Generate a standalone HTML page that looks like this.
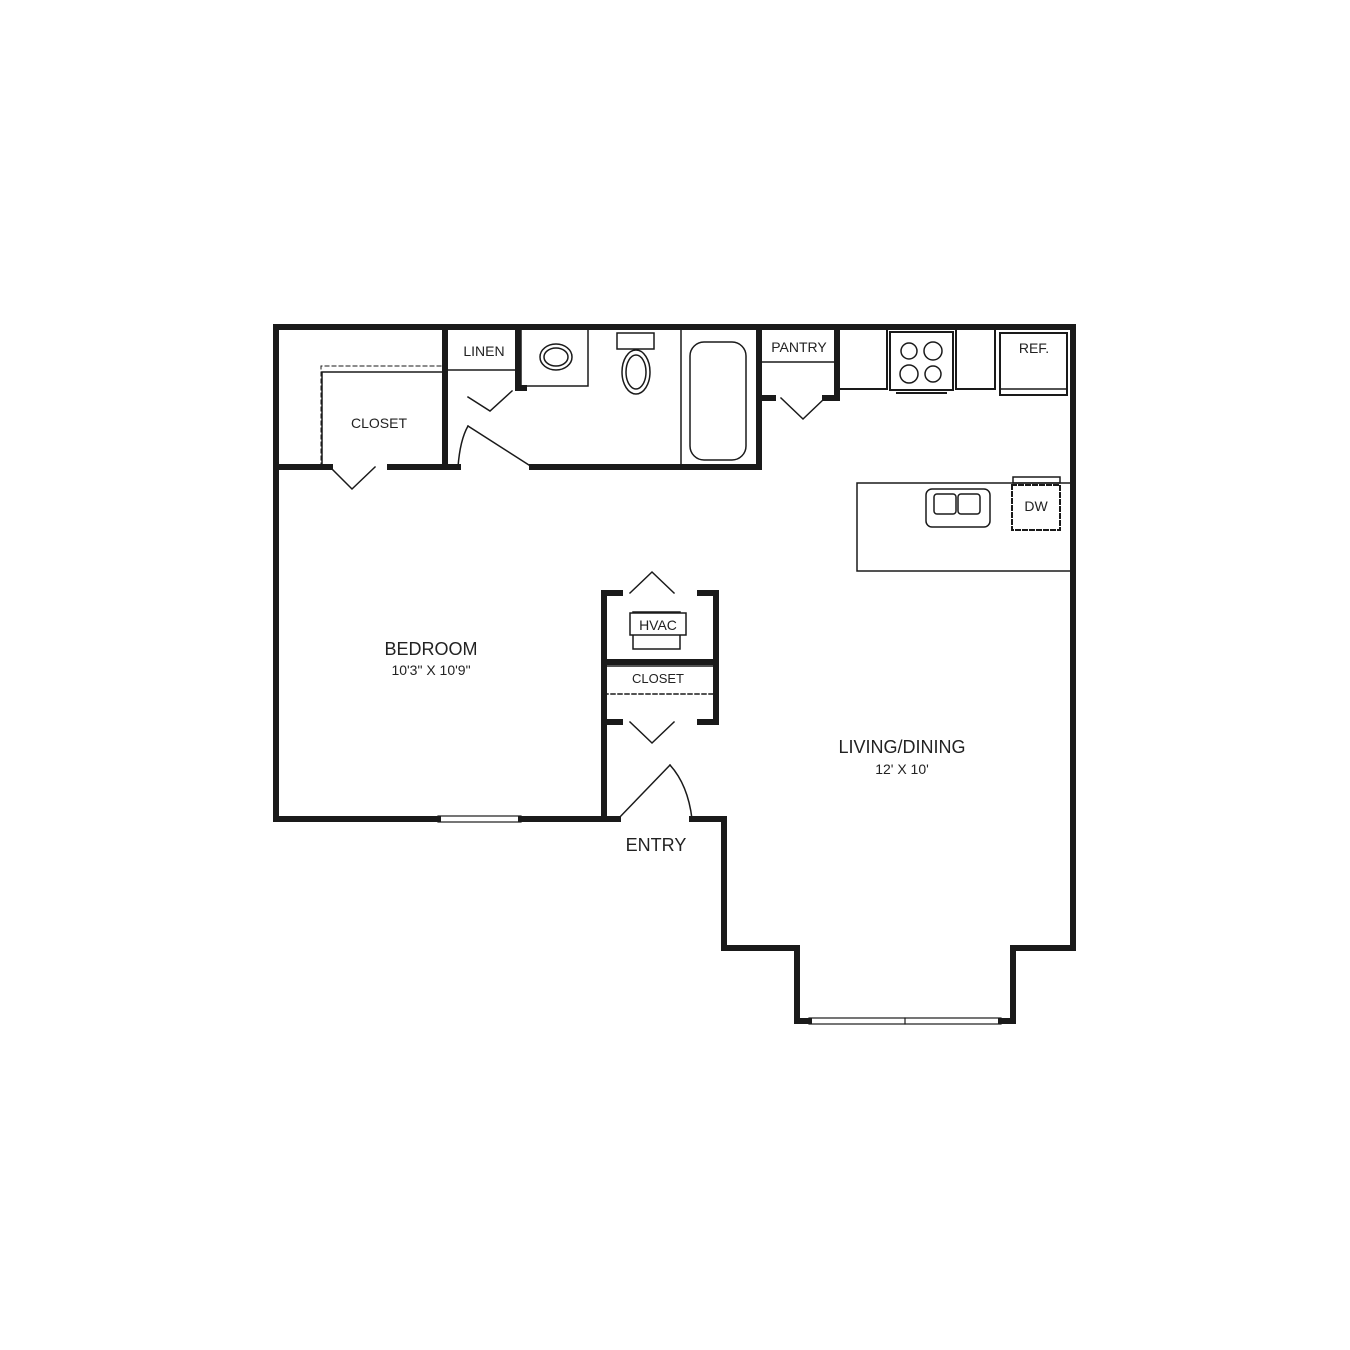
<!DOCTYPE html>
<html><head><style>body{margin:0;background:#fff}svg{display:block}text{font-family:"Liberation Sans",sans-serif;fill:#222;text-anchor:middle}</style></head>
<body><svg width="1350" height="1350" viewBox="0 0 1350 1350">
<g fill="none" stroke="#1a1a1a" stroke-linecap="square">
<path d="M438 819 H276 V327 H1073 V948 H1013 V1021 H1001 M809 1021 H797 V948 H724 V819 H692" stroke-width="6"/>
<path d="M521 819 H618" stroke-width="6"/>
<rect x="438" y="816" width="83" height="6" stroke-width="1.2"/>
<rect x="809" y="1018" width="192" height="6" stroke-width="1.2"/>
<line x1="905" y1="1018" x2="905" y2="1024" stroke-width="1.2"/>
<path d="M276 467 H330 M390 467 H445 V327 M445 467 H458 M532 467 H759 V327" stroke-width="6"/>
<path d="M518 327 V388 H524" stroke-width="6"/>
<path d="M837 327 V398 H825 M759 398 H773" stroke-width="6"/>
<g stroke-width="1.5">
<line x1="445" y1="370" x2="518" y2="370"/>
<rect x="521" y="327" width="67" height="59"/>
<line x1="681" y1="327" x2="681" y2="467"/>
<line x1="759" y1="362" x2="837" y2="362"/>
<path d="M322 467 V372 H445"/>
<path d="M321 467 V366 H445" stroke-dasharray="4 3" stroke-width="1"/>
<path d="M330 467 L352 489 L375 467"/>
<path d="M468 397 L490 411 L512 391"/>
<path d="M781 398 L803 419 L825 398"/>
<path d="M468 426 L532 467"/>
<path d="M458 467 Q460 440 468 426"/>
<ellipse cx="556" cy="357" rx="16" ry="13"/>
<ellipse cx="556" cy="357" rx="12" ry="9"/>
<rect x="617" y="333" width="37" height="16"/>
<ellipse cx="636" cy="372" rx="14" ry="22"/>
<ellipse cx="636" cy="372" rx="10" ry="17"/>
<rect x="690" y="342" width="56" height="118" rx="14"/>
<rect x="839" y="329" width="48" height="60" stroke-width="2"/>
<rect x="890" y="332" width="63" height="58" stroke-width="2"/>
<circle cx="909" cy="351" r="8"/><circle cx="933" cy="351" r="9"/>
<circle cx="909" cy="374" r="9"/><circle cx="933" cy="374" r="8"/>
<line x1="897" y1="393" x2="946" y2="393" stroke-width="2"/>
<rect x="956" y="329" width="39" height="60" stroke-width="2"/>
<rect x="1000" y="333" width="67" height="62" stroke-width="2"/>
<line x1="1000" y1="389" x2="1067" y2="389"/>
<rect x="857" y="483" width="214" height="88"/>
<rect x="1013" y="477" width="47" height="6"/>
<rect x="1012" y="485" width="48" height="45" stroke-dasharray="4 3" stroke-width="2"/>
<rect x="926" y="489" width="64" height="38" rx="6"/>
<rect x="934" y="494" width="22" height="20" rx="3"/>
<rect x="958" y="494" width="22" height="20" rx="3"/>
<path d="M630 593 L652 572 L674 593"/>
<path d="M630 722 L652 743 L674 722"/>
<rect x="633" y="612" width="47" height="37"/>
<rect x="630" y="613" width="56" height="22" fill="#fff"/>
<line x1="604" y1="666" x2="714" y2="666"/>
<line x1="604" y1="694" x2="714" y2="694" stroke-dasharray="4 3"/>
<path d="M618 819 L670 765"/>
<path d="M670 765 Q688 785 692 819"/>
</g>
<path d="M620 593 H604 V819 M700 593 H716 V722 H700 M620 722 H604 M604 662 H716" stroke-width="6"/>
</g>
<text x="379" y="428" font-size="14">CLOSET</text>
<text x="484" y="356" font-size="14">LINEN</text>
<text x="799" y="352" font-size="14">PANTRY</text>
<text x="1034" y="353" font-size="14">REF.</text>
<text x="1036" y="511" font-size="14">DW</text>
<text x="658" y="630" font-size="14">HVAC</text>
<text x="658" y="683" font-size="13">CLOSET</text>
<text x="431" y="655" font-size="18">BEDROOM</text>
<text x="431" y="675" font-size="14">10'3" X 10'9"</text>
<text x="902" y="753" font-size="18">LIVING/DINING</text>
<text x="902" y="774" font-size="14">12' X 10'</text>
<text x="656" y="851" font-size="18">ENTRY</text>
</svg></body></html>
